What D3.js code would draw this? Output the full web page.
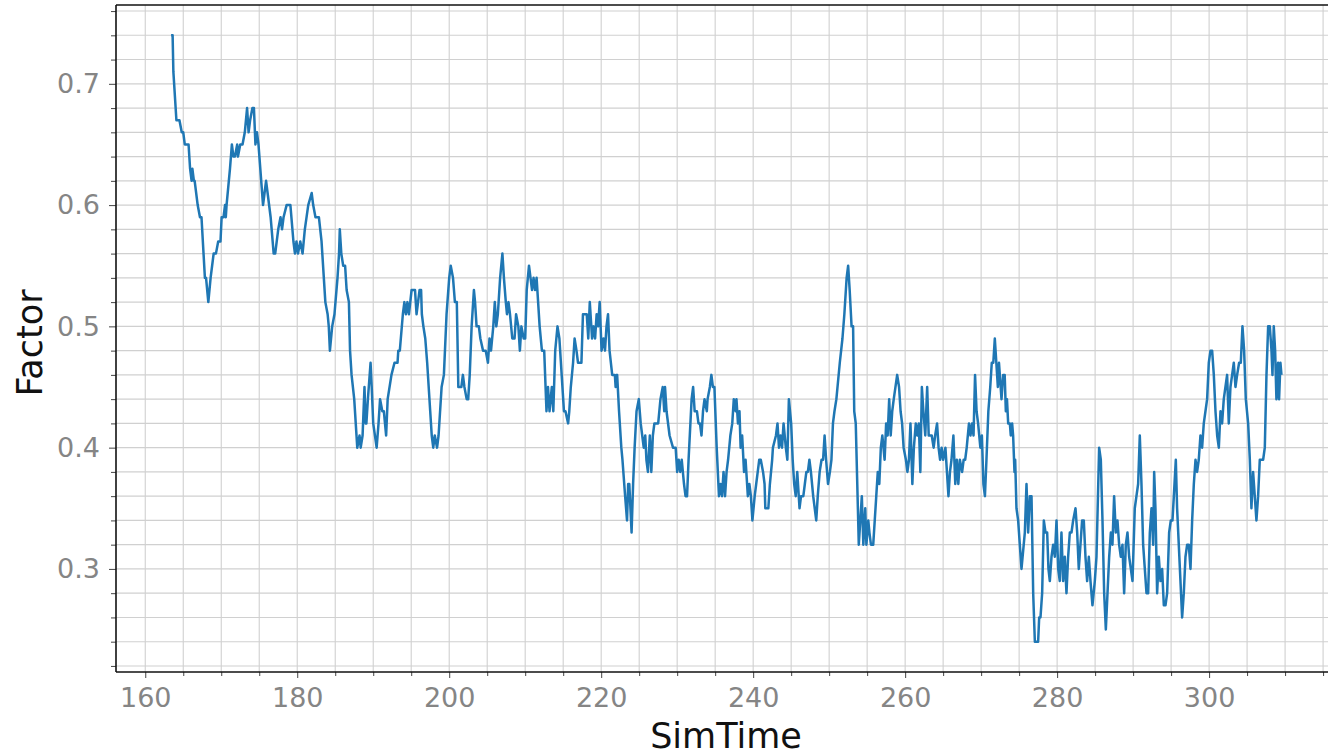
<!DOCTYPE html>
<html>
<head>
<meta charset="utf-8">
<script src="https://d3js.org/d3.v7.min.js"></script>
<style>
  html, body { margin: 0; padding: 0; background: #fff; }
  svg { display: block; }
</style>
</head>
<body>
<svg id="chart" width="1328" height="756"></svg>
<script>
const simTime = [
163.4,163.6,163.7,164.1,164.5,164.8,165.0,165.2,165.7,165.9,166.1,166.2,166.4,166.5,166.9,167.2,167.4,167.85,168.0,168.3,
168.6,168.8,169.0,169.3,169.6,169.9,170.05,170.3,170.5,170.6,170.7,171.15,171.4,171.6,171.8,172.1,172.2,172.5,172.8,173.1,
173.4,173.6,173.8,174.1,174.3,174.5,174.7,174.9,175.5,175.7,175.9,176.1,176.5,176.9,177.1,177.5,177.8,178.0,178.2,178.6,
179.1,179.5,179.7,179.9,180.1,180.4,180.7,181.0,181.45,181.9,182.1,182.4,182.85,183.2,183.5,183.7,184.0,184.15,184.3,184.6,
184.9,185.3,185.5,185.6,185.8,186.05,186.3,186.5,186.8,186.95,187.15,187.5,187.8,187.9,188.2,188.35,188.6,188.85,189.0,189.1,
189.3,189.65,189.8,190.0,190.45,190.7,190.9,191.2,191.4,191.7,191.9,192.4,192.8,193.2,193.3,193.5,193.9,194.1,194.3,194.5,
194.7,195.05,195.5,195.7,195.9,196.1,196.3,196.4,196.6,196.85,197.1,197.5,197.7,197.9,198.1,198.4,198.6,199.0,199.3,199.65,
200.0,200.2,200.5,200.75,201.0,201.2,201.6,201.8,202.0,202.3,202.5,202.7,202.95,203.25,203.4,203.6,203.9,204.1,204.45,204.8,
205.1,205.3,205.5,205.8,206.0,206.2,206.4,206.7,207.0,207.2,207.45,207.6,207.8,208.0,208.3,208.6,208.8,209.1,209.3,209.5,
209.8,210.0,210.2,210.5,210.7,210.9,211.1,211.3,211.5,211.9,212.2,212.5,212.8,213.0,213.2,213.5,213.7,213.95,214.25,214.5,
214.8,215.1,215.3,215.65,215.8,216.0,216.3,216.5,216.75,216.95,217.4,217.6,218.1,218.3,218.5,218.8,219.0,219.2,219.4,219.6,
219.8,220.05,220.3,220.5,220.7,220.9,221.1,221.45,221.8,221.9,222.1,222.35,222.65,222.8,223.15,223.4,223.55,223.7,224.0,224.2,
224.4,224.65,224.95,225.2,225.4,225.6,225.8,225.95,226.15,226.4,226.6,226.8,227.0,227.5,227.8,228.1,228.3,228.4,228.6,229.0,
229.45,229.8,230.0,230.2,230.4,230.6,230.9,231.1,231.3,231.5,231.9,232.1,232.3,232.6,232.8,233.0,233.2,233.4,233.6,233.9,
234.0,234.3,234.5,234.7,234.9,235.2,235.5,235.7,235.9,236.1,236.3,236.5,236.7,237.0,237.25,237.45,237.7,237.8,238.0,238.2,
238.35,238.55,238.8,239.0,239.3,239.5,239.7,239.9,240.2,240.4,240.6,240.8,241.0,241.3,241.5,241.6,242.0,242.2,242.5,242.6,
243.0,243.2,243.4,243.6,243.8,244.0,244.3,244.5,244.7,245.0,245.2,245.4,245.6,245.8,246.1,246.3,246.6,246.8,247.0,247.2,
247.4,247.6,247.9,248.1,248.3,248.5,248.75,249.0,249.2,249.4,249.6,249.85,250.1,250.3,250.5,250.7,250.95,251.4,251.75,252.0,
252.3,252.5,252.7,252.95,253.15,253.3,253.5,253.7,253.9,254.1,254.3,254.5,254.75,254.9,255.15,255.3,255.5,255.8,256.0,256.2,
256.4,256.6,256.8,257.0,257.3,257.5,257.7,257.9,258.1,258.3,258.5,258.95,259.2,259.4,259.6,259.8,260.1,260.3,260.5,260.7,
260.95,261.15,261.4,261.6,261.8,262.0,262.2,262.4,262.65,262.9,263.1,263.3,263.5,263.75,263.95,264.2,264.4,264.6,264.8,265.0,
265.3,265.5,265.7,265.9,266.1,266.35,266.6,266.8,267.0,267.2,267.5,267.7,267.9,268.1,268.4,268.6,268.8,269.0,269.2,269.4,
269.6,269.9,270.1,270.3,270.5,270.7,270.95,271.2,271.4,271.6,271.8,272.0,272.2,272.35,272.46,272.68,272.9,273.1,273.25,273.4,
273.56,273.78,273.9,274.08,274.21,274.39,274.48,274.65,274.87,275.31,275.75,275.97,276.19,276.41,276.63,276.85,277.07,277.5,277.64,277.81,
278.03,278.25,278.47,278.69,278.86,279.04,279.26,279.48,279.7,279.92,280.14,280.35,280.57,280.79,281.01,281.23,281.45,281.67,281.89,282.11,
282.42,282.64,282.85,283.07,283.29,283.51,283.73,283.95,284.17,284.39,284.65,284.96,285.18,285.53,285.75,285.97,286.19,286.41,286.63,286.85,
287.07,287.28,287.5,287.72,287.94,288.16,288.38,288.6,288.82,289.04,289.26,289.48,289.7,289.92,290.22,290.44,290.66,290.88,291.1,291.32,
291.54,291.76,291.98,292.2,292.42,292.64,292.77,292.94,293.16,293.38,293.6,293.82,294.04,294.26,294.48,294.74,294.96,295.18,295.36,295.62,
295.79,296.01,296.23,296.45,296.67,296.89,297.11,297.33,297.55,297.77,297.99,298.21,298.42,298.64,298.86,299.08,299.3,299.52,299.74,299.96,
300.18,300.4,300.62,300.84,301.06,301.28,301.5,301.71,301.93,302.15,302.37,302.59,302.81,303.03,303.25,303.47,303.69,303.95,304.17,304.39,
304.61,304.83,305.14,305.36,305.57,305.79,306.01,306.23,306.45,306.67,306.89,307.11,307.33,307.55,307.77,307.99,308.21,308.34,308.51,308.69,
308.86,309.08,309.21,309.39,309.52
];
const factor = [
0.74,0.74,0.71,0.67,0.67,0.66,0.66,0.65,0.65,0.63,0.62,0.63,0.62,0.62,0.60,0.59,0.59,0.54,0.54,0.52,
0.54,0.55,0.56,0.56,0.57,0.57,0.59,0.59,0.60,0.59,0.60,0.63,0.65,0.64,0.64,0.65,0.64,0.65,0.65,0.66,
0.68,0.66,0.67,0.68,0.68,0.65,0.66,0.65,0.60,0.61,0.62,0.61,0.59,0.56,0.56,0.58,0.59,0.58,0.59,0.60,
0.60,0.57,0.56,0.57,0.56,0.57,0.56,0.58,0.60,0.61,0.60,0.59,0.59,0.57,0.54,0.52,0.51,0.50,0.48,0.50,
0.51,0.54,0.56,0.58,0.56,0.55,0.55,0.53,0.52,0.48,0.46,0.44,0.41,0.40,0.41,0.40,0.41,0.45,0.42,0.42,
0.44,0.47,0.45,0.42,0.40,0.42,0.44,0.43,0.43,0.41,0.44,0.46,0.47,0.47,0.48,0.48,0.51,0.52,0.51,0.52,
0.51,0.53,0.53,0.51,0.52,0.53,0.53,0.51,0.50,0.49,0.47,0.43,0.41,0.40,0.41,0.40,0.41,0.45,0.46,0.51,
0.54,0.55,0.54,0.52,0.52,0.45,0.45,0.46,0.45,0.44,0.44,0.46,0.50,0.53,0.52,0.50,0.50,0.49,0.48,0.48,
0.47,0.49,0.48,0.50,0.52,0.50,0.51,0.54,0.56,0.54,0.52,0.51,0.52,0.51,0.49,0.49,0.51,0.50,0.48,0.50,
0.49,0.49,0.53,0.55,0.54,0.53,0.54,0.53,0.54,0.50,0.48,0.48,0.43,0.45,0.43,0.45,0.43,0.48,0.50,0.49,
0.46,0.43,0.43,0.42,0.43,0.45,0.47,0.49,0.48,0.47,0.47,0.51,0.51,0.49,0.52,0.49,0.50,0.49,0.51,0.50,
0.52,0.48,0.49,0.48,0.50,0.51,0.48,0.46,0.46,0.45,0.46,0.43,0.40,0.39,0.36,0.34,0.37,0.37,0.33,0.37,
0.40,0.43,0.44,0.42,0.41,0.40,0.41,0.39,0.38,0.41,0.38,0.41,0.42,0.42,0.44,0.45,0.43,0.45,0.43,0.41,
0.40,0.40,0.38,0.39,0.38,0.39,0.37,0.36,0.36,0.39,0.44,0.45,0.43,0.43,0.42,0.42,0.41,0.43,0.44,0.43,
0.44,0.45,0.46,0.45,0.45,0.40,0.36,0.37,0.36,0.38,0.36,0.38,0.39,0.41,0.42,0.44,0.43,0.44,0.42,0.43,
0.40,0.41,0.38,0.39,0.36,0.37,0.36,0.34,0.36,0.37,0.38,0.39,0.39,0.38,0.37,0.35,0.35,0.37,0.39,0.40,
0.41,0.42,0.40,0.41,0.40,0.42,0.40,0.39,0.44,0.42,0.39,0.37,0.36,0.38,0.35,0.36,0.36,0.37,0.38,0.38,
0.39,0.38,0.36,0.35,0.34,0.36,0.38,0.39,0.39,0.41,0.39,0.37,0.38,0.39,0.42,0.43,0.44,0.47,0.49,0.51,
0.54,0.55,0.53,0.50,0.50,0.43,0.42,0.37,0.32,0.34,0.36,0.32,0.35,0.32,0.34,0.33,0.32,0.32,0.34,0.36,
0.38,0.37,0.40,0.41,0.39,0.42,0.41,0.44,0.41,0.43,0.44,0.46,0.45,0.43,0.42,0.40,0.39,0.38,0.39,0.42,
0.37,0.40,0.42,0.41,0.42,0.38,0.45,0.43,0.41,0.45,0.41,0.41,0.41,0.40,0.41,0.42,0.40,0.39,0.40,0.39,
0.40,0.38,0.36,0.38,0.39,0.41,0.37,0.39,0.37,0.39,0.38,0.39,0.39,0.40,0.42,0.41,0.42,0.41,0.46,0.43,
0.42,0.40,0.41,0.37,0.36,0.39,0.43,0.45,0.47,0.47,0.49,0.47,0.45,0.47,0.46,0.44,0.46,0.46,0.43,0.44,
0.42,0.42,0.41,0.42,0.41,0.38,0.39,0.35,0.34,0.30,0.33,0.37,0.33,0.36,0.36,0.28,0.24,0.24,0.26,0.26,
0.28,0.34,0.33,0.33,0.30,0.29,0.31,0.32,0.31,0.34,0.30,0.29,0.33,0.29,0.31,0.28,0.31,0.33,0.33,0.34,
0.35,0.33,0.30,0.32,0.34,0.34,0.31,0.29,0.31,0.29,0.27,0.29,0.31,0.40,0.39,0.34,0.28,0.25,0.28,0.31,
0.33,0.32,0.36,0.33,0.34,0.32,0.31,0.32,0.28,0.32,0.33,0.31,0.30,0.29,0.35,0.36,0.37,0.41,0.37,0.32,
0.30,0.28,0.28,0.33,0.35,0.32,0.38,0.35,0.28,0.31,0.29,0.30,0.27,0.27,0.28,0.33,0.34,0.34,0.36,0.39,
0.35,0.32,0.29,0.26,0.28,0.31,0.32,0.32,0.30,0.34,0.37,0.39,0.38,0.39,0.41,0.40,0.42,0.43,0.44,0.47,
0.48,0.48,0.46,0.43,0.41,0.40,0.43,0.42,0.44,0.45,0.46,0.42,0.45,0.46,0.47,0.45,0.46,0.47,0.47,0.50,
0.48,0.44,0.42,0.39,0.35,0.38,0.36,0.34,0.36,0.39,0.39,0.39,0.40,0.46,0.50,0.50,0.48,0.46,0.50,0.48,
0.44,0.47,0.44,0.47,0.46
];
const xMajorTicks = [160, 180, 200, 220, 240, 260, 280, 300];
const yMajorTicks = [0.3, 0.4, 0.5, 0.6, 0.7];
const xLabel = "SimTime";
const yLabel = "Factor";

(function () {
  const svg = d3.select("#chart");
  const mLeft = 116, mTop = 5, mBottom = 672, mRight = 1336;
  const x = d3.scaleLinear().domain([156.15, 316.7]).range([mLeft, mRight]);
  const y = d3.scaleLinear().domain([0.215, 0.765]).range([mBottom, mTop]);

  const xMinor = d3.range(160, 316, 5);
  const yMinor = d3.range(0.22, 0.765, 0.02).map(v => +v.toFixed(2));

  const grid = svg.append("g");
  grid.selectAll("line.gx").data(xMinor).join("line")
    .attr("x1", d => x(d)).attr("x2", d => x(d))
    .attr("y1", mTop).attr("y2", mBottom)
    .attr("stroke", "#d0d0d0").attr("stroke-width", 1.1);
  grid.selectAll("line.gy").data(yMinor).join("line")
    .attr("x1", mLeft).attr("x2", mRight)
    .attr("y1", d => y(d)).attr("y2", d => y(d))
    .attr("stroke", "#d0d0d0").attr("stroke-width", 1.1);

  const n = Math.min(simTime.length, factor.length);
  const pts = d3.range(n).map(i => [simTime[i], factor[i]]);
  svg.append("path")
    .datum(pts)
    .attr("fill", "none")
    .attr("stroke", "#1f77b4")
    .attr("stroke-width", 2.5)
    .attr("stroke-linejoin", "round")
    .attr("d", d3.line().x(d => x(d[0])).y(d => y(d[1])));

  const fontFam = "'DejaVu Sans', sans-serif";
  const xAxis = svg.append("g").attr("transform", `translate(0,${mBottom})`)
    .call(d3.axisBottom(x).tickValues(xMajorTicks).tickFormat(d3.format("d")).tickSize(6).tickPadding(10));
  const xAxisMinor = svg.append("g").attr("transform", `translate(0,${mBottom})`)
    .call(d3.axisBottom(x).tickValues(xMinor.filter(v => !xMajorTicks.includes(v))).tickFormat("").tickSize(4));
  const yAxis = svg.append("g").attr("transform", `translate(${mLeft},0)`)
    .call(d3.axisLeft(y).tickValues(yMajorTicks).tickFormat(d3.format(".1f")).tickSize(7).tickPadding(9));
  const yAxisMinor = svg.append("g").attr("transform", `translate(${mLeft},0)`)
    .call(d3.axisLeft(y).tickValues(yMinor.filter(v => !yMajorTicks.some(m => Math.abs(m - v) < 1e-6))).tickFormat("").tickSize(5));

  [xAxis, xAxisMinor, yAxis, yAxisMinor].forEach(g => {
    g.select(".domain").remove();
    g.selectAll(".tick line").attr("stroke", "#444").attr("stroke-width", 1);
    g.selectAll(".tick text").attr("fill", "#858585").attr("font-size", 27).attr("font-family", fontFam);
  });

  const spine = (x1, y1, x2, y2) => svg.append("line")
    .attr("x1", x1).attr("y1", y1).attr("x2", x2).attr("y2", y2)
    .attr("stroke", "#111").attr("stroke-width", 1.6);
  spine(mLeft, mTop, mLeft, mBottom);
  spine(mLeft, mBottom, mRight, mBottom);
  spine(mLeft, mTop, mRight, mTop);
  spine(mRight, mTop, mRight, mBottom);

  svg.append("text")
    .attr("x", (mLeft + mRight) / 2).attr("y", 748)
    .attr("text-anchor", "middle")
    .attr("font-family", fontFam).attr("font-size", 35).attr("fill", "#111")
    .text(xLabel);
  svg.append("text")
    .attr("transform", `translate(42,343) rotate(-90)`)
    .attr("text-anchor", "middle")
    .attr("font-family", fontFam).attr("font-size", 35).attr("fill", "#111")
    .text(yLabel);
})();
</script>
</body>
</html>
